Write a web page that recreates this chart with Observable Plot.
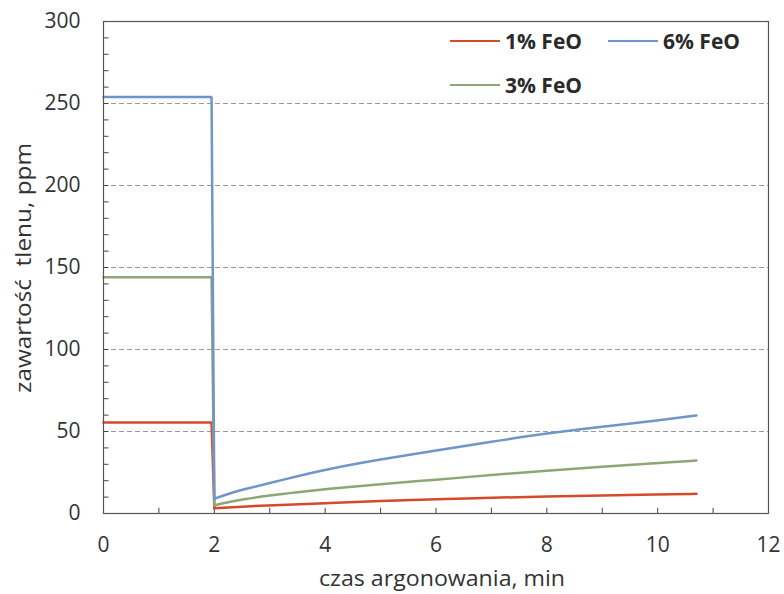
<!DOCTYPE html>
<html>
<head>
<meta charset="utf-8">
<script src="https://cdn.jsdelivr.net/npm/d3@7"></script>
<script src="https://cdn.jsdelivr.net/npm/@observablehq/plot@0.6"></script>
<style>
  html, body { margin: 0; padding: 0; background: #fff; }
  #chart svg { display: block; }
</style>
</head>
<body>
<div id="chart"></div>
<script>
// Oxygen content (ppm) during argon stirring, for three FeO levels in slag
const timeFeO1 = [0, 1.95, 2.0, 2.5, 3, 4, 5, 6, 7, 8, 9, 10, 10.7];
const oxyFeO1  = [55.5, 55.5, 3.2, 4.2, 5, 6.3, 7.7, 8.7, 9.6, 10.4, 11, 11.6, 12];

const timeFeO3 = [0, 1.95, 2.0, 2.25, 2.5, 3, 3.5, 4, 5, 6, 7, 8, 9, 10, 10.7];
const oxyFeO3  = [144, 144, 5, 7, 8.5, 11, 13, 14.8, 18, 20.6, 23.5, 26.2, 28.5, 30.7, 32.3];

const timeFeO6 = [0, 1.95, 2.0, 2.25, 2.5, 3, 3.5, 4, 5, 6, 7, 8, 9, 10, 10.7];
const oxyFeO6  = [254, 254, 9, 12, 14.5, 18.5, 22.8, 26.8, 33, 38.4, 43.8, 48.9, 53, 56.7, 59.8];

const seriesNames  = ["1% FeO", "3% FeO", "6% FeO"];
const seriesColors = ["#d6492c", "#8ea574", "#7095c9"];

const xTickLabels = [0, 2, 4, 6, 8, 10, 12];
const yTickLabels = [0, 50, 100, 150, 200, 250, 300];
const yGridValues = [50, 100, 150, 200, 250];
const xMinorTicks = [1, 2, 3, 4, 5, 6, 7, 8, 9, 10, 11];
const yMinorTicks = d3.range(10, 300, 10);

const xTitle = "czas argonowania, min";
const yTitle = "zawartość  tlenu, ppm";

// Split each series into the flat part (before the drop, straight segments)
// and the recovery part (from the drop onward, smoothed)
function split(times, values, name) {
  const flat = [], rise = [];
  times.forEach((t, i) => {
    if (t <= 2.0) flat.push({t, v: values[i], s: name, k: name + "-flat"});
    if (t >= 2.0) rise.push({t, v: values[i], s: name, k: name + "-rise"});
  });
  return {flat, rise};
}
const parts = [
  split(timeFeO1, oxyFeO1, seriesNames[0]),
  split(timeFeO3, oxyFeO3, seriesNames[1]),
  split(timeFeO6, oxyFeO6, seriesNames[2])
];
const flatRows = parts.flatMap(p => p.flat);
const riseRows = parts.flatMap(p => p.rise);

const font = "'Open Sans', 'Liberation Sans', sans-serif";

const chart = Plot.plot({
  width: 784,
  height: 594,
  marginLeft: 103,
  marginRight: 16,
  marginTop: 21,
  marginBottom: 81,
  style: {fontFamily: font, background: "#fff"},
  x: {domain: [0, 12]},
  y: {domain: [0, 300]},
  color: {domain: seriesNames, range: seriesColors},
  marks: [
    Plot.ruleY(yGridValues, {stroke: "#999", strokeWidth: 1, strokeDasharray: "5,3"}),
    Plot.ruleX(xMinorTicks, {y1: 0, y2: 3.2, stroke: "#444", strokeWidth: 1}),
    Plot.ruleY(yMinorTicks, {x1: 0, x2: 0.1, stroke: "#444", strokeWidth: 1}),
    Plot.axisX(xTickLabels, {tickSize: 0, tickPadding: 24, fontSize: 21, fill: "#333", label: null}),
    Plot.axisY(yTickLabels, {tickSize: 0, tickPadding: 23, fontSize: 21, fill: "#333", label: null}),
    Plot.line(flatRows, {x: "t", y: "v", z: "k", stroke: "s", strokeWidth: 2.5,
                         curve: "linear", strokeLinejoin: "miter"}),
    Plot.line(riseRows, {x: "t", y: "v", z: "k", stroke: "s", strokeWidth: 2.5,
                         curve: "basis"}),
    Plot.frame({stroke: "#555", strokeWidth: 1.2})
  ]
});

const svg = d3.select(chart);

// Axis titles
svg.append("text").attr("x", 442).attr("y", 586).attr("text-anchor", "middle")
  .attr("font-family", font).attr("font-size", 22).attr("fill", "#333")
  .attr("textLength", 246).attr("lengthAdjust", "spacingAndGlyphs").text(xTitle);
svg.append("text").attr("transform", "translate(31,268) rotate(-90)").attr("text-anchor", "middle")
  .attr("font-family", font).attr("font-size", 22).attr("fill", "#333")
  .attr("textLength", 250).attr("lengthAdjust", "spacingAndGlyphs").text(yTitle);

// Legend inside the plot area, top right
const legendItems = [
  {name: seriesNames[0], color: seriesColors[0], x: 450, y: 41},
  {name: seriesNames[2], color: seriesColors[2], x: 608, y: 41},
  {name: seriesNames[1], color: seriesColors[1], x: 450, y: 85}
];
const lg = svg.append("g");
legendItems.forEach(d => {
  lg.append("line").attr("x1", d.x).attr("x2", d.x + 50).attr("y1", d.y).attr("y2", d.y)
    .attr("stroke", d.color).attr("stroke-width", 2);
  lg.append("text").attr("x", d.x + 55).attr("y", d.y).attr("dy", "0.36em")
    .attr("text-anchor", "start")
    .attr("font-family", font).attr("font-size", 21).attr("font-weight", "bold")
    .attr("fill", "#2a2a2a").attr("textLength", 77).attr("lengthAdjust", "spacingAndGlyphs")
    .text(d.name);
});

document.getElementById("chart").appendChild(chart);
</script>
</body>
</html>
